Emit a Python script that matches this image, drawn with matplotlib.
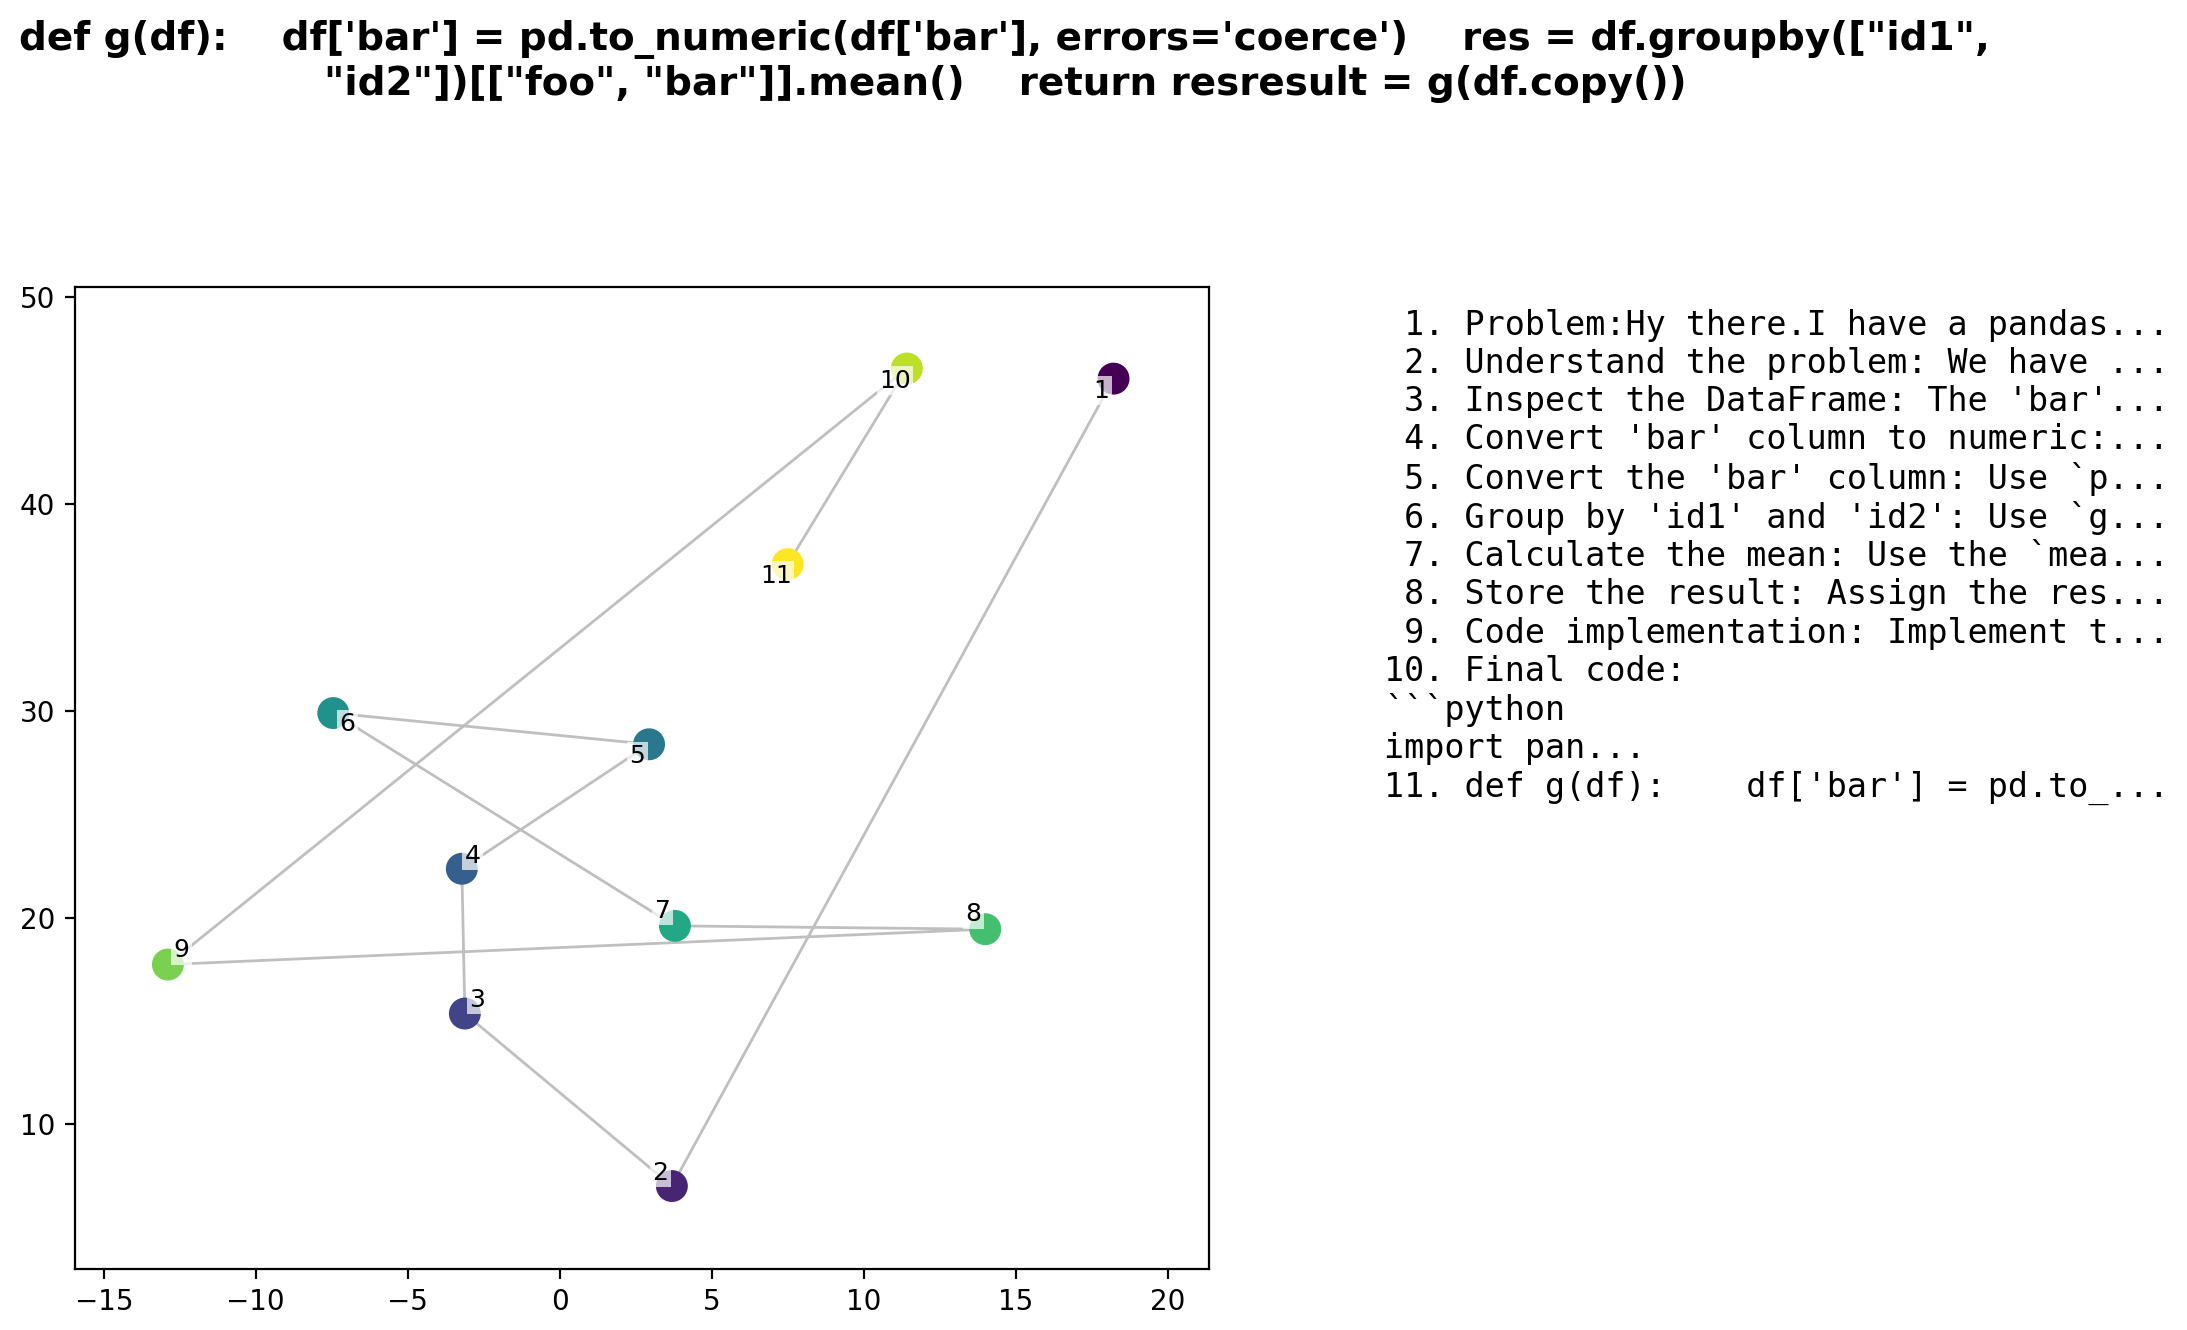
import matplotlib
matplotlib.use('Agg')
import matplotlib.pyplot as plt
import numpy as np

# point positions (circles, also the path vertices)
point_x = [18.22, 3.69, -3.12, -3.22, 2.94, -7.45, 3.79, 14.00, -12.89, 11.42, 7.50]
point_y = [46.06, 7.02, 15.36, 22.36, 28.38, 29.89, 19.60, 19.44, 17.73, 46.55, 37.09]

# label positions (slightly jittered from the points)
label_x = [17.81, 3.30, -2.71, -2.86, 2.55, -6.98, 3.38, 13.61, -12.45, 11.03, 7.11]
label_y = [45.47, 7.67, 16.02, 22.99, 27.79, 29.36, 20.33, 20.16, 18.42, 45.96, 36.53]
labels = [str(i + 1) for i in range(len(point_x))]

title = ("def g(df):    df['bar'] = pd.to_numeric(df['bar'], errors='coerce')    res = df.groupby([\"id1\",\n"
         "\"id2\"])[[\"foo\", \"bar\"]].mean()    return resresult = g(df.copy())")

steps = [
    " 1. Problem:Hy there.I have a pandas...",
    " 2. Understand the problem: We have ...",
    " 3. Inspect the DataFrame: The 'bar'...",
    " 4. Convert 'bar' column to numeric:...",
    " 5. Convert the 'bar' column: Use `p...",
    " 6. Group by 'id1' and 'id2': Use `g...",
    " 7. Calculate the mean: Use the `mea...",
    " 8. Store the result: Assign the res...",
    " 9. Code implementation: Implement t...",
    "10. Final code:",
    "```python",
    "import pan...",
    "11. def g(df):    df['bar'] = pd.to_...",
]

fig = plt.figure(figsize=(10.935, 6.65), dpi=200)
ax = fig.add_axes([0.0341, 0.0462, 0.5187, 0.738])

ax.plot(point_x, point_y, '-', color='gray', alpha=0.5, lw=1, zorder=1)
ax.scatter(point_x, point_y, c=np.arange(len(point_x)), cmap='viridis', s=110, zorder=2)
for lx, ly, lab in zip(label_x, label_y, labels):
    ax.text(lx, ly, lab, fontsize=9, ha='center', va='center', zorder=3,
            bbox=dict(boxstyle='square,pad=0.1', facecolor='white', alpha=0.7, edgecolor='none'))

ax.set_xlim(-15.96, 21.36)
ax.set_ylim(3.03, 50.49)
ax.set_xticks([-15, -10, -5, 0, 5, 10, 15, 20])
ax.set_yticks([10, 20, 30, 40, 50])

fig.text(0.4595, 0.985, title, ha='center', va='top', fontsize=14, fontweight='bold')
fig.text(0.633, 0.768, "\n".join(steps), ha='left', va='top', fontsize=12, family='DejaVu Sans Mono')

fig.savefig('out.png', dpi=200)
